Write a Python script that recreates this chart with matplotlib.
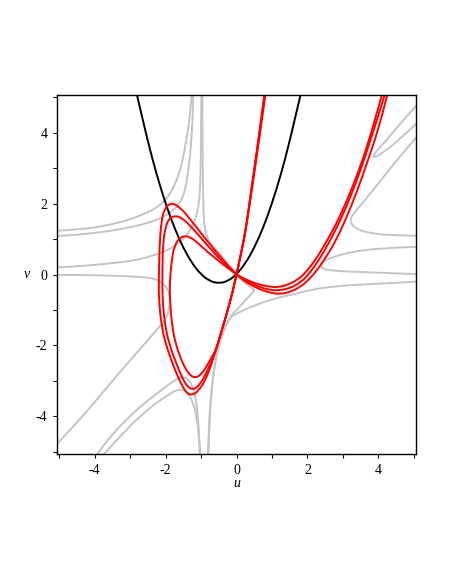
import matplotlib
matplotlib.use("Agg")
import matplotlib.pyplot as plt
from matplotlib.path import Path
from matplotlib.patches import PathPatch

# black parabola
black_u = [-2.8, -2.5, -2.25, -2.0, -1.75, -1.5, -1.25, -1.0, -0.75, -0.5, -0.25,
           0.0, 0.25, 0.5, 0.75, 1.0, 1.25, 1.5, 1.8]
black_v = [5.04, 3.75, 2.81, 2.0, 1.31, 0.75, 0.31, 0.0, -0.19, -0.25, -0.19,
           0.0, 0.31, 0.75, 1.31, 2.0, 2.81, 3.75, 5.04]

# red nodal curves: outer, middle, inner
red_a = [(4.26, 5.1), (4.0, 4.1), (3.7, 3.2), (3.4, 2.35), (3.1, 1.6), (2.8, 0.95),
         (2.5, 0.45), (2.2, 0.03), (2.0, -0.18), (1.8, -0.35), (1.5, -0.5), (1.22, -0.55),
         (1.0, -0.52), (0.8, -0.47), (0.6, -0.39), (0.4, -0.29), (0.2, -0.17), (0.0, 0.0),
         (-0.38, 0.41), (-0.85, 0.97), (-1.32, 1.58), (-1.6, 1.9), (-1.84, 2.03),
         (-2.03, 1.86), (-2.12, 1.49), (-2.17, 0.83), (-2.19, -0.1), (-2.19, -0.72),
         (-2.1, -1.55), (-1.95, -2.1), (-1.77, -2.6), (-1.58, -3.05), (-1.4, -3.36),
         (-1.22, -3.4), (-1.05, -3.25), (-0.88, -2.98), (-0.73, -2.6), (-0.58, -2.13),
         (-0.44, -1.66), (-0.3, -1.19), (-0.17, -0.72), (-0.08, -0.36), (0.0, 0.0),
         (0.13, 0.6), (0.26, 1.25), (0.45, 2.5), (0.63, 3.75), (0.82, 5.1)]
red_b = [(4.19, 5.1), (3.8, 3.85), (3.5, 2.95), (3.2, 2.15), (2.9, 1.47), (2.6, 0.88),
         (2.3, 0.37), (2.03, 0.0), (1.8, -0.23), (1.5, -0.39), (1.17, -0.45), (1.0, -0.44),
         (0.8, -0.4), (0.6, -0.33), (0.4, -0.25), (0.2, -0.14), (0.0, 0.0),
         (-0.4, 0.36), (-0.85, 0.85), (-1.3, 1.38), (-1.55, 1.6), (-1.74, 1.66),
         (-1.9, 1.58), (-2.0, 1.35), (-2.07, 0.9), (-2.09, 0.2), (-2.09, -0.72),
         (-2.0, -1.55), (-1.85, -2.1), (-1.68, -2.55), (-1.5, -2.98), (-1.35, -3.2),
         (-1.18, -3.24), (-1.02, -3.08), (-0.86, -2.8), (-0.73, -2.5), (-0.58, -2.13),
         (-0.44, -1.66), (-0.3, -1.19), (-0.17, -0.72), (-0.08, -0.36), (0.0, 0.0),
         (0.13, 0.6), (0.26, 1.25), (0.44, 2.5), (0.62, 3.75), (0.8, 5.1)]
red_c = [(4.11, 5.1), (3.7, 3.65), (3.4, 2.8), (3.1, 2.05), (2.8, 1.4), (2.5, 0.86),
         (2.2, 0.37), (1.9, 0.0), (1.7, -0.16), (1.4, -0.31), (1.13, -0.36), (1.0, -0.35),
         (0.8, -0.32), (0.6, -0.27), (0.4, -0.2), (0.2, -0.11), (0.0, 0.0),
         (-0.4, 0.3), (-0.8, 0.62), (-1.1, 0.9), (-1.3, 1.05), (-1.46, 1.09),
         (-1.62, 1.02), (-1.75, 0.8), (-1.83, 0.4), (-1.88, -0.2), (-1.88, -0.72),
         (-1.8, -1.6), (-1.67, -2.1), (-1.5, -2.55), (-1.32, -2.84), (-1.15, -2.92),
         (-0.98, -2.8), (-0.82, -2.55), (-0.68, -2.3), (-0.58, -2.13), (-0.44, -1.66),
         (-0.3, -1.19), (-0.17, -0.72), (-0.08, -0.36), (0.0, 0.0), (0.13, 0.6),
         (0.26, 1.25), (0.43, 2.5), (0.61, 3.75), (0.79, 5.1)]

# grey curves
grey_curves = {
    "g_a": [(-5.1, 1.23), (-4.5, 1.27), (-4.0, 1.32), (-3.5, 1.42), (-3.0, 1.55), (-2.5, 1.75),
            (-2.2, 1.92), (-1.95, 2.15), (-1.75, 2.5), (-1.6, 2.9), (-1.48, 3.4),
            (-1.38, 4.0), (-1.3, 4.6), (-1.26, 5.1)],
    "g_b": [(-5.1, 1.08), (-4.5, 1.12), (-4.0, 1.17), (-3.5, 1.24), (-3.0, 1.33), (-2.5, 1.45),
            (-2.1, 1.6), (-1.8, 1.8), (-1.6, 2.0), (-1.45, 2.35), (-1.37, 2.85),
            (-1.3, 3.4), (-1.26, 4.0), (-1.23, 4.6), (-1.22, 5.1)],
    "g_c": [(-5.1, 0.2), (-4.5, 0.23), (-4.0, 0.27), (-3.5, 0.32), (-3.0, 0.38),
            (-2.73, 0.43), (-2.4, 0.52), (-2.1, 0.62), (-1.88, 0.72), (-1.7, 0.83),
            (-1.5, 1.0), (-1.32, 1.22), (-1.18, 1.5), (-1.08, 1.85), (-1.03, 2.3),
            (-1.01, 3.0), (-1.0, 4.0), (-0.99, 5.1)],
    "g_d": [(-0.96, 5.1), (-0.96, 4.0), (-0.95, 3.0), (-0.94, 2.2), (-0.92, 1.5),
            (-0.86, 1.1), (-0.72, 0.85), (-0.55, 0.68), (-0.42, 0.55), (-0.24, 0.27),
            (0.0, 0.0), (0.19, -0.2), (0.35, -0.32), (0.5, -0.43), (0.5, -0.47),
            (0.3, -0.67), (0.05, -0.95), (-0.19, -1.19), (-0.42, -1.72), (-0.57, -2.3),
            (-0.67, -2.9), (-0.73, -3.6), (-0.77, -4.3), (-0.79, -5.1)],
    "h1": [(-5.1, -0.01), (-4.0, -0.02), (-3.3, -0.04), (-2.9, -0.06), (-2.6, -0.08),
           (-2.31, -0.11), (-2.07, -0.25), (-1.93, -0.43), (-1.87, -0.65), (-1.9, -0.98),
           (-1.97, -1.22), (-2.17, -1.47), (-2.5, -1.85), (-3.0, -2.42), (-3.5, -3.0),
           (-4.0, -3.6), (-4.5, -4.18), (-5.1, -4.82)],
    "h2": [(-3.96, -5.1), (-3.5, -4.5), (-3.0, -3.98), (-2.5, -3.55), (-2.0, -3.17),
           (-1.7, -2.95), (-1.5, -2.88), (-1.35, -2.95), (-1.22, -3.2), (-1.13, -3.6),
           (-1.08, -4.1), (-1.05, -4.6), (-1.04, -5.1)],
    "h2b": [(-3.77, -5.1), (-3.3, -4.58), (-2.73, -4.0), (-2.3, -3.65), (-1.9, -3.37),
            (-1.6, -3.22), (-1.4, -3.3), (-1.22, -3.6), (-1.12, -4.05), (-1.06, -4.55),
            (-1.01, -5.1)],
    "h3": [(5.1, -0.2), (4.0, -0.26), (3.2, -0.3), (2.64, -0.35), (2.1, -0.43),
           (1.65, -0.55), (1.08, -0.67), (0.5, -0.87), (0.0, -1.1), (-0.19, -1.21),
           (-0.42, -1.68), (-0.56, -2.25), (-0.66, -2.85), (-0.73, -3.55), (-0.78, -4.3),
           (-0.81, -5.1)],
    "r1": [(5.1, 4.8), (4.6, 4.23), (4.2, 3.76), (3.95, 3.48), (3.85, 3.34), (3.9, 3.3),
           (4.1, 3.42), (4.5, 3.72), (5.1, 4.28)],
    "r3": [(5.1, 3.9), (4.6, 3.32), (4.2, 2.82), (3.8, 2.32), (3.5, 1.95), (3.3, 1.72),
           (3.2, 1.55), (3.25, 1.4), (3.45, 1.25), (3.8, 1.16), (4.3, 1.11), (5.1, 1.09)],
    "r4": [(5.1, 0.78), (4.3, 0.75), (3.58, 0.69), (3.0, 0.58), (2.64, 0.46), (2.45, 0.37),
           (2.36, 0.26), (2.42, 0.17), (2.6, 0.12), (3.0, 0.09), (3.5, 0.07), (4.3, 0.04),
           (5.1, 0.01)],
}

x_ticks = [-4, -2, 0, 2, 4]
y_ticks = [-4, -2, 0, 2, 4]
minor_ticks = [-5, -3, -1, 1, 3, 5]


def smooth(pts):
    # quadratic bezier through the midpoints, read points act as control points
    verts = [pts[0], ((pts[0][0] + pts[1][0]) / 2, (pts[0][1] + pts[1][1]) / 2)]
    codes = [Path.MOVETO, Path.LINETO]
    for i in range(1, len(pts) - 1):
        nxt = pts[i + 1]
        mid = ((pts[i][0] + nxt[0]) / 2, (pts[i][1] + nxt[1]) / 2)
        if i == len(pts) - 2:
            mid = nxt
        verts += [pts[i], mid]
        codes += [Path.CURVE3, Path.CURVE3]
    return Path(verts, codes)


plt.rcParams['font.family'] = ['Liberation Serif', 'DejaVu Serif']

fig = plt.figure(figsize=(4.5, 5.82), dpi=100)
ax = fig.add_axes([57 / 450, 128 / 582, 359 / 450, 359 / 582])

for name, pts in grey_curves.items():
    ax.add_patch(PathPatch(smooth(pts), fill=False, edgecolor='#c4c4c4', lw=1.4))

ax.add_patch(PathPatch(smooth(list(zip(black_u, black_v))), fill=False,
                       edgecolor='black', lw=1.4))

for pts in [red_a, red_b, red_c]:
    ax.add_patch(PathPatch(smooth(pts), fill=False, edgecolor='#ff0000', lw=1.4))

ax.set_xlim(-5.06, 5.06)
ax.set_ylim(-5.06, 5.06)

ax.set_xticks(x_ticks)
ax.set_xticklabels([str(t) for t in x_ticks])
ax.set_yticks(y_ticks)
ax.set_yticklabels([str(t) for t in y_ticks])
ax.set_xticks(minor_ticks, minor=True)
ax.set_yticks(minor_ticks, minor=True)
ax.tick_params(which='both', direction='out', length=3, width=0.8, labelsize=10, pad=4)
for s in ax.spines.values():
    s.set_linewidth(1.0)

ax.set_xlabel('u', fontstyle='italic', fontsize=10, labelpad=0)
ax.set_ylabel('v', fontstyle='italic', fontsize=10, rotation=0, labelpad=6, va='center')

fig.savefig('out.png', dpi=100)
